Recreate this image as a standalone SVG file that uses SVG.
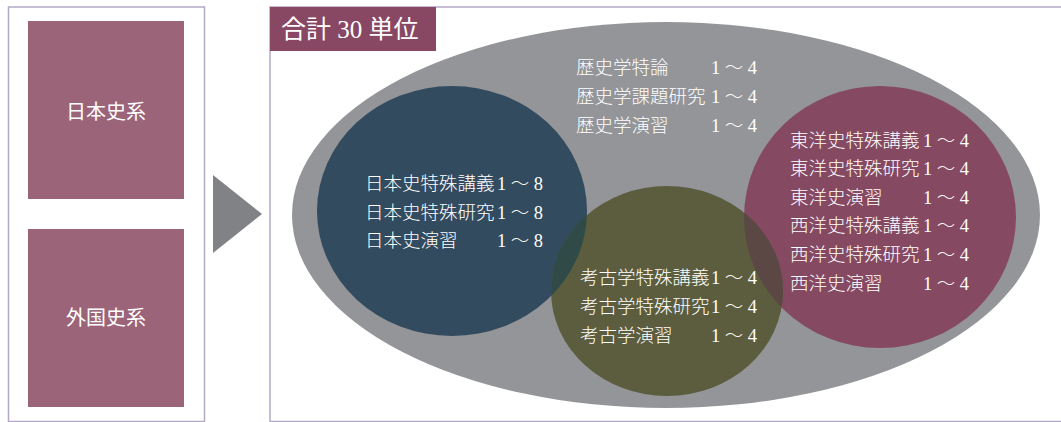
<svg xmlns="http://www.w3.org/2000/svg" width="1061" height="422" viewBox="0 0 1061 422">
<style>
.panel{fill:#ffffff;stroke:#b3a9c7;stroke-width:1.5}
.box{fill:#9b6479}
.t{font-family:"Liberation Serif","Noto Sans CJK JP",serif;fill:#ffffff}
.lbl{font-size:20px;text-anchor:middle}
.it{font-size:18.5px;font-weight:300}
.num{letter-spacing:4.5px}
</style>
<defs>
<clipPath id="olive-clip"><ellipse cx="667" cy="291" rx="116" ry="105"/></clipPath>
</defs>
<rect x="0" y="0" width="1061" height="422" fill="#ffffff"/>
<g id="left-panel">
<rect class="panel" x="8.5" y="7" width="196" height="414.5"/>
</g>
<g id="node-japanese">
<rect class="box" x="28" y="21" width="156" height="178"/>
<text class="t lbl" x="106" y="119">日本史系</text>
</g>
<g id="node-foreign">
<rect class="box" x="28" y="229" width="156" height="178"/>
<text class="t lbl" x="106" y="325">外国史系</text>
</g>
<g id="connectors">
<polygon points="213,175 262,214 213,253" fill="#808285"/>
</g>
<g id="right-panel">
<rect class="panel" x="270" y="7" width="800" height="414.5"/>
<rect x="270" y="7" width="166" height="44" fill="#884863"/>
<text class="t" x="281" y="38" font-size="25">合計 30 単位</text>
</g>
<g id="node-total">
<ellipse cx="666" cy="215" rx="374" ry="193" fill="#939598"/>
<text class="t it" y="74"><tspan x="576">歴史学特論</tspan><tspan class="num" x="711">1～4</tspan></text>
<text class="t it" y="103"><tspan x="576">歴史学課題研究</tspan><tspan class="num" x="711">1～4</tspan></text>
<text class="t it" y="131.5"><tspan x="576">歴史学演習</tspan><tspan class="num" x="711">1～4</tspan></text>
</g>
<g id="node-nihon">
<ellipse cx="452" cy="211" rx="135" ry="125" fill="#334b5e"/>
</g>
<g id="node-seiyou">
<ellipse cx="880" cy="217" rx="136" ry="131" fill="#864962"/>
</g>
<g id="node-kouko">
<ellipse cx="667" cy="291" rx="116" ry="105" fill="#5c5d3e"/>
<g clip-path="url(#olive-clip)">
<ellipse cx="452" cy="211" rx="135" ry="125" fill="#2f4a47"/>
<ellipse cx="880" cy="217" rx="136" ry="131" fill="#5b4744"/>
</g>
</g>
<g id="labels-nihon">
<text class="t it" y="190"><tspan x="365">日本史特殊講義</tspan><tspan class="num" x="497">1～8</tspan></text>
<text class="t it" y="218.5"><tspan x="365">日本史特殊研究</tspan><tspan class="num" x="497">1～8</tspan></text>
<text class="t it" y="247"><tspan x="365">日本史演習</tspan><tspan class="num" x="497">1～8</tspan></text>
</g>
<g id="labels-seiyou">
<text class="t it" y="146.5"><tspan x="790">東洋史特殊講義</tspan><tspan class="num" x="923">1～4</tspan></text>
<text class="t it" y="175"><tspan x="790">東洋史特殊研究</tspan><tspan class="num" x="923">1～4</tspan></text>
<text class="t it" y="203.5"><tspan x="790">東洋史演習</tspan><tspan class="num" x="923">1～4</tspan></text>
<text class="t it" y="232"><tspan x="790">西洋史特殊講義</tspan><tspan class="num" x="923">1～4</tspan></text>
<text class="t it" y="261"><tspan x="790">西洋史特殊研究</tspan><tspan class="num" x="923">1～4</tspan></text>
<text class="t it" y="289.5"><tspan x="790">西洋史演習</tspan><tspan class="num" x="923">1～4</tspan></text>
</g>
<g id="labels-kouko">
<text class="t it" y="283.5"><tspan x="580">考古学特殊講義</tspan><tspan class="num" x="711">1～4</tspan></text>
<text class="t it" y="313"><tspan x="580">考古学特殊研究</tspan><tspan class="num" x="711">1～4</tspan></text>
<text class="t it" y="341.5"><tspan x="580">考古学演習</tspan><tspan class="num" x="711">1～4</tspan></text>
</g>
</svg>
